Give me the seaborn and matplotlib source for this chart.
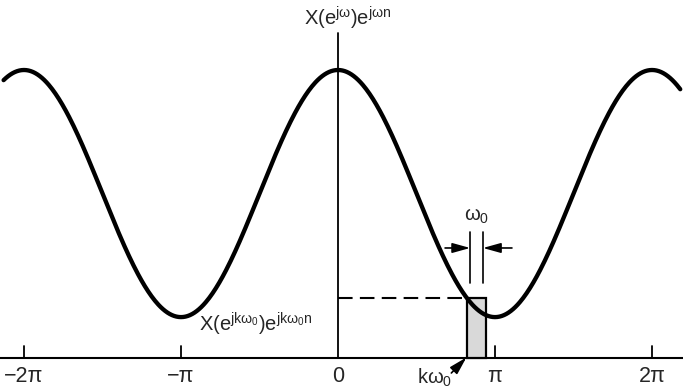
import numpy as np
import pandas as pd
import matplotlib
matplotlib.use("Agg")
import matplotlib.pyplot as plt
from matplotlib.patches import Rectangle
import seaborn as sns

# ---- data (x in units of pi, y normalised so the peak = 1) ----
peak_level = 1.0          # X(e^{jw}) at w = 0, +-2pi
trough_level = 0.142      # X(e^{jw}) at w = +-pi
omega_start, omega_end = -2.13, 2.18
k_omega0 = 0.822          # left edge of shaded strip (units of pi)
omega0 = 0.121            # strip width (units of pi)
tick_positions = [-2, -1, 0, 1, 2]
tick_labels = ["\u22122\u03c0", "\u2212\u03c0", "0", "\u03c0", "2\u03c0"]

omega = np.linspace(omega_start, omega_end, 600)
mid = (peak_level + trough_level) / 2
amp = (peak_level - trough_level) / 2
spectrum = mid + amp * np.cos(np.pi * omega)
df = pd.DataFrame({"omega": omega, "X": spectrum})
strip_height = mid + amp * np.cos(np.pi * k_omega0)

sns.set_theme(style="white")
plt.rcParams["font.family"] = ["Liberation Sans", "DejaVu Sans"]
plt.rcParams["mathtext.fontset"] = "custom"
plt.rcParams["mathtext.rm"] = "Liberation Sans"
plt.rcParams["mathtext.it"] = "Liberation Sans"
plt.rcParams["mathtext.bf"] = "Liberation Sans:bold"

fig = plt.figure(figsize=(6.83, 3.91), dpi=100)
ax = fig.add_axes([0, 0, 1, 1])
px = 1 / 157.0   # x units per pixel
py = 1 / 288.0   # y units per pixel

# curve
sns.lineplot(data=df, x="omega", y="X", ax=ax, color="black", lw=3.1,
             legend=False, zorder=4)
ax.set_axis_off()
ax.set_xlim(-338 * px, (683 - 338) * px)
ax.set_ylim(-(391 - 358) * py, 358 * py)

# axes lines
ax.plot([-338 * px, 345 * px], [0, 0], color="black", lw=1.5, solid_capstyle="butt")
ax.plot([0, 0], [0, (358 - 33) * py], color="black", lw=1.3)
for t in tick_positions:
    if t != 0:
        ax.plot([t, t], [0, 12 * py], color="black", lw=1.3)
for t, lab in zip(tick_positions, tick_labels):
    ax.text(t, -18 * py, lab, ha="center", va="center", fontsize=15.5)

# shaded strip and dashed level
ax.add_patch(Rectangle((k_omega0, 0), omega0, strip_height, facecolor="#d9d9d9",
                       edgecolor="black", lw=1.6, zorder=3))
ax.plot([0, k_omega0], [strip_height, strip_height], color="black", lw=1.5,
        linestyle=(0, (7, 3.5)))

# omega_0 annotation
xl = k_omega0 + 0.02
xr = k_omega0 + omega0 - 0.02
ax.plot([xl, xl], [0.26, 0.4375], color="black", lw=1.2)
ax.plot([xr, xr], [0.26, 0.4375], color="black", lw=1.2)
arrow_kw = dict(arrowstyle="-|>,head_length=0.9,head_width=0.25", color="black",
                lw=1.2, mutation_scale=12, shrinkA=0, shrinkB=0)
ax.annotate("", xy=(xl, 0.382), xytext=(0.682, 0.382), arrowprops=arrow_kw)
ax.annotate("", xy=(xr, 0.382), xytext=(1.108, 0.382), arrowprops=arrow_kw)
ax.text((xl + xr) / 2, 0.49, r"$\omega_0$", ha="center", va="center", fontsize=14.5)

# k omega_0 annotation
ax.text(0.615, -20 * py, r"k$\omega_0$", ha="center", va="center", fontsize=14.5)
ax.annotate("", xy=(k_omega0 - 0.004, 0.002), xytext=(0.722, -45 * py / 3),
            arrowprops=arrow_kw)

# labels
ax.text(-34 * px, (358 - 18) * py, r"X(e$^{j\omega}$)e$^{j\omega n}$",
        ha="left", va="center", fontsize=14.5)
ax.text(-139 * px, 0.115, r"X(e$^{jk\omega_0}$)e$^{jk\omega_0 n}$",
        ha="left", va="center", fontsize=14.5)

fig.savefig("out.png", dpi=100)
